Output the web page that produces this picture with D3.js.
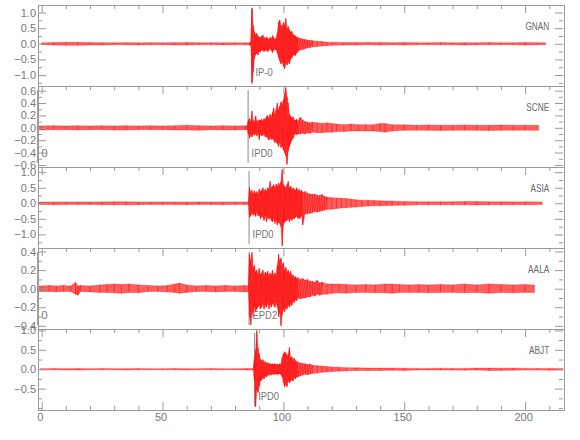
<!DOCTYPE html>
<html><head><meta charset="utf-8">
<script src="https://cdn.jsdelivr.net/npm/d3@7"></script>
<style>
html,body{margin:0;padding:0;background:#fff;}
svg{display:block;}
text{font-family:"Liberation Sans",Arial,sans-serif;}
</style></head><body>
<svg id="c" width="580" height="440"></svg>
<script>
// ---------------- data ----------------
const stations = ["GNAN","SCNE","ASIA","AALA","ABJT"];
const yDomains = [[-1.35,1.24],[-0.633,0.675],[-1.435,1.165],[-0.434,0.438],[-1.05,1.036]];
const yMajor = [[-1,-0.5,0,0.5,1],[-0.6,-0.4,-0.2,0,0.2,0.4,0.6],[-1,-0.5,0,0.5,1],[-0.4,-0.2,0,0.2,0.4],[-0.5,0,0.5,1]];
const yMinorStep = [0.25,0.1,0.25,0.1,0.25];
const xDomain = [-1.65, 215.8];
const xMajor = [0,50,100,150,200];
const xMinor = [10,20,30,40,60,70,80,90,110,120,130,140,160,170,180,190,210];
const picks = [
  {s:0,t:87.0,label:"IP-0"},
  {s:1,t:-1.65,label:"0"},{s:1,t:85.4,label:"IPD0"},
  {s:2,t:85.8,label:"IPD0"},
  {s:3,t:-1.65,label:"0"},{s:3,t:85.8,label:"EPD2"},
  {s:4,t:88.1,label:"IPD0"}
];
// envelope of each trace: [time s, max amplitude, min amplitude]
const GNAN = [
[0,.03,-.03],[5,.04,-.04],[10,.05,-.045],[15,.045,-.05],[20,.04,-.035],[25,.035,-.04],[30,.03,-.03],[35,.035,-.03],[40,.03,-.035],[45,.035,-.03],[50,.03,-.03],[55,.035,-.035],[60,.04,-.035],[65,.03,-.03],[70,.035,-.03],[75,.03,-.035],[80,.03,-.03],[84,.035,-.03],[86,.03,-.035],[86.5,.06,-.07],
[87,1.15,-1.27],[87.5,.6,-.9],[88,.38,-.47],[88.5,.3,-.35],[89,.33,-.3],[89.5,.25,-.36],[90,.22,-.25],[90.5,.2,-.26],[91,.24,-.2],[91.5,.28,-.22],[92,.2,-.25],[92.5,.17,-.22],[93,.22,-.2],[93.5,.18,-.26],[94,.15,-.2],[94.5,.2,-.17],[95,.17,-.22],[95.5,.26,-.28],[96,.2,-.2],[96.5,.15,-.18],[97,.18,-.2],[97.5,.35,-.3],[98,.7,-.45],[98.5,.76,-.55],[99,.6,-.65],[99.5,.55,-.58],[100,.68,-.72],[100.5,.6,-.8],[101,.81,-.62],[101.5,.5,-.68],[102,.55,-.58],[102.5,.45,-.65],[103,.38,-.5],[103.5,.4,-.45],[104,.3,-.38],[104.5,.28,-.35],[105,.25,-.38],[105.5,.22,-.3],[106,.2,-.25],[107,.17,-.2],[108,.15,-.18],[109,.14,-.16],[110,.12,-.13],[111,.11,-.12],[112,.1,-.1],[114,.08,-.09],[116,.07,-.07],[118,.05,-.06],[120,.05,-.05],[125,.04,-.04],[130,.04,-.04],[135,.04,-.03],[140,.04,-.04],[145,.03,-.03],[150,.04,-.04],[155,.03,-.03],[160,.03,-.03],[165,.04,-.03],[170,.03,-.03],[175,.03,-.04],[180,.03,-.03],[185,.04,-.03],[190,.03,-.03],[195,.03,-.03],[200,.04,-.04],[205,.03,-.03],[208.4,.03,-.03]];
const SCNE = [
[-1.65,.03,-.03],[0,.03,-.035],[5,.035,-.03],[10,.03,-.03],[15,.035,-.035],[20,.03,-.03],[25,.035,-.03],[30,.03,-.035],[35,.035,-.035],[40,.03,-.03],[45,.035,-.03],[50,.03,-.03],[55,.035,-.035],[60,.04,-.035],[65,.035,-.04],[70,.03,-.03],[75,.035,-.035],[80,.03,-.035],[84,.035,-.03],[85,.03,-.03],
[85.5,.12,-.1],[86,.15,-.17],[86.5,.1,-.12],[87,.27,-.15],[87.5,.12,-.1],[88,.1,-.12],[88.5,.19,-.1],[89,.12,-.13],[89.5,.1,-.11],[90,.13,-.19],[90.5,.12,-.1],[91,.14,-.13],[91.5,.11,-.12],[92,.15,-.11],[92.5,.13,-.15],[93,.18,-.14],[93.5,.2,-.17],[94,.16,-.2],[94.5,.22,-.16],[95,.18,-.19],[95.5,.25,-.18],[96,.32,-.2],[96.5,.22,-.24],[97,.3,-.22],[97.5,.4,-.26],[98,.28,-.3],[98.5,.35,-.24],[99,.42,-.32],[99.5,.38,-.3],[100,.45,-.36],[100.5,.55,-.4],[101,.65,-.45],[101.5,.5,-.59],[102,.4,-.38],[102.5,.22,-.3],[103,.19,-.25],[103.5,.16,-.2],[104,.18,-.17],[104.5,.13,-.12],[105,.12,-.1],[105.5,.14,-.11],[106,.11,-.1],[107,.17,-.1],[108,.12,-.09],[109,.1,-.1],[110,.09,-.08],[111,.08,-.09],[112,.09,-.07],[114,.08,-.08],[116,.07,-.08],[118,.08,-.07],[120,.07,-.07],[122,.06,-.06],[125,.05,-.06],[128,.06,-.05],[131,.05,-.05],[134,.05,-.05],[137,.05,-.05],[140,.07,-.06],[142,.07,-.07],[145,.05,-.05],[150,.05,-.04],[155,.04,-.04],[160,.045,-.04],[165,.04,-.045],[170,.04,-.04],[175,.045,-.04],[180,.04,-.04],[185,.04,-.045],[190,.045,-.04],[195,.04,-.04],[200,.04,-.04],[205.5,.04,-.04]];
const ASIA = [
[-1.65,.04,-.04],[0,.04,-.04],[5,.04,-.045],[10,.045,-.04],[15,.04,-.04],[20,.04,-.04],[25,.045,-.045],[30,.05,-.045],[35,.05,-.05],[40,.04,-.045],[45,.04,-.04],[50,.045,-.04],[55,.04,-.04],[60,.04,-.045],[65,.045,-.04],[70,.04,-.04],[75,.045,-.045],[80,.04,-.04],[84,.04,-.04],[85.5,.04,-.04],
[86,.5,-.45],[86.5,.35,-.4],[87,.42,-.3],[87.5,.3,-.38],[88,.4,-.35],[88.5,.33,-.42],[89,.38,-.3],[89.5,.3,-.4],[90,.45,-.38],[90.5,.38,-.5],[91,.42,-.42],[91.5,.5,-.45],[92,.4,-.55],[92.5,.45,-.4],[93,.38,-.6],[93.5,.5,-.45],[94,.45,-.5],[94.5,.7,-.48],[95,.5,-.55],[95.5,.55,-.6],[96,.6,-.5],[96.5,.5,-.65],[97,.62,-.55],[97.5,.55,-.7],[98,.65,-.6],[98.5,.58,-.65],[99,.7,-.75],[99.5,1.09,-1.37],[100,.6,-.7],[100.5,.55,-.6],[101,.5,-.58],[101.5,.6,-.55],[102,.7,-.5],[102.5,.5,-.6],[103,.55,-.5],[103.5,.45,-.55],[104,.5,-.48],[104.5,.45,-.5],[105,.42,-.45],[105.5,.5,-.42],[106,.4,-.48],[106.5,.45,-.5],[107,.38,-.45],[107.5,.42,-.4],[108,.35,-.7],[109,.38,-.35],[110,.32,-.33],[111,.3,-.32],[112,.28,-.3],[113,.3,-.27],[114,.26,-.28],[115,.25,-.26],[116,.28,-.24],[117,.22,-.22],[118,.2,-.2],[120,.18,-.19],[122,.17,-.17],[124,.16,-.15],[126,.15,-.14],[128,.13,-.13],[130,.11,-.12],[132.5,.1,-.1],[135,.1,-.09],[137.5,.09,-.08],[140,.08,-.08],[142.5,.07,-.07],[145,.07,-.07],[147.5,.06,-.06],[150,.06,-.06],[155,.05,-.05],[160,.05,-.05],[165,.05,-.05],[170,.05,-.05],[175,.055,-.05],[180,.06,-.055],[185,.05,-.05],[190,.05,-.05],[195,.045,-.05],[200,.05,-.045],[207,.04,-.04]];
const AALA = [
[-1.65,.03,-.03],[0,.03,-.03],[3,.035,-.03],[6,.03,-.035],[9,.035,-.03],[12,.03,-.03],[14,.07,-.06],[15,.03,-.07],[16,.035,-.03],[20,.03,-.035],[24,.04,-.04],[27,.045,-.04],[30,.05,-.045],[33,.045,-.05],[36,.05,-.04],[40,.04,-.045],[44,.035,-.03],[48,.03,-.03],[52,.035,-.035],[55,.05,-.04],[57,.06,-.05],[60,.04,-.04],[64,.03,-.03],[68,.035,-.03],[72,.03,-.035],[76,.035,-.03],[80,.03,-.03],[84,.035,-.035],[85.5,.03,-.03],
[86,.37,-.3],[86.5,.3,-.39],[87,.39,-.25],[87.5,.22,-.3],[88,.25,-.2],[88.5,.18,-.25],[89,.2,-.22],[89.5,.15,-.2],[90,.22,-.18],[90.5,.15,-.22],[91,.17,-.2],[91.5,.2,-.17],[92,.14,-.22],[92.5,.18,-.18],[93,.16,-.2],[93.5,.19,-.15],[94,.14,-.22],[94.5,.17,-.17],[95,.15,-.2],[95.5,.2,-.16],[96,.14,-.18],[96.5,.17,-.2],[97,.15,-.15],[97.5,.25,-.2],[98,.37,-.3],[98.5,.3,-.25],[99,.33,-.4],[99.5,.25,-.28],[100,.28,-.22],[100.5,.2,-.25],[101,.23,-.2],[101.5,.18,-.22],[102,.2,-.18],[102.5,.16,-.2],[103,.19,-.17],[103.5,.14,-.18],[104,.15,-.14],[104.5,.12,-.15],[105,.13,-.12],[105.5,.11,-.13],[106,.12,-.1],[107,.1,-.11],[108,.11,-.1],[109,.09,-.1],[110,.1,-.09],[111,.08,-.09],[112,.08,-.07],[113,.07,-.08],[114,.09,-.06],[115,.06,-.07],[116,.07,-.06],[118,.05,-.06],[120,.05,-.05],[123,.05,-.045],[126,.045,-.05],[130,.04,-.04],[134,.045,-.04],[138,.04,-.045],[142,.05,-.045],[145,.05,-.05],[148,.045,-.04],[152,.04,-.04],[156,.045,-.04],[160,.04,-.045],[165,.045,-.04],[170,.04,-.04],[175,.05,-.045],[180,.04,-.04],[185,.05,-.05],[190,.045,-.04],[195,.04,-.045],[200,.045,-.04],[203.8,.04,-.04]];
const ABJT = [
[-0.7,.015,-.015],[5,.02,-.015],[10,.015,-.02],[15,.02,-.02],[20,.015,-.015],[25,.02,-.015],[30,.015,-.015],[35,.015,-.02],[40,.02,-.015],[45,.015,-.015],[50,.015,-.015],[55,.02,-.015],[60,.015,-.02],[65,.015,-.015],[70,.02,-.015],[75,.015,-.015],[80,.015,-.015],[85,.02,-.02],[87.5,.02,-.02],
[88,.25,-.3],[88.5,.5,-.97],[89,1.0,-.55],[89.5,.55,-.6],[90,.4,-.45],[90.5,.26,-.3],[91,.22,-.28],[91.5,.25,-.22],[92,.18,-.25],[92.5,.2,-.18],[93,.15,-.2],[93.5,.17,-.15],[94,.14,-.16],[94.5,.15,-.13],[95,.12,-.15],[95.5,.14,-.12],[96,.12,-.14],[96.5,.15,-.13],[97,.12,-.12],[97.5,.13,-.14],[98,.12,-.12],[98.5,.14,-.12],[99,.12,-.15],[99.5,.3,-.2],[100,.4,-.35],[100.5,.45,-.45],[101,.42,-.4],[101.5,.35,-.45],[102,.4,-.3],[102.5,.56,-.35],[103,.3,-.3],[103.5,.32,-.28],[104,.25,-.3],[104.5,.28,-.22],[105,.22,-.25],[105.5,.2,-.2],[106,.18,-.2],[107,.16,-.17],[108,.15,-.15],[109,.14,-.13],[110,.12,-.14],[111,.13,-.12],[112,.1,-.11],[114,.09,-.1],[116,.08,-.08],[118,.07,-.07],[120,.06,-.06],[123,.05,-.05],[126,.04,-.04],[130,.035,-.035],[135,.03,-.03],[140,.03,-.03],[145,.03,-.025],[150,.025,-.03],[155,.02,-.02],[160,.02,-.02],[165,.025,-.02],[170,.02,-.02],[175,.02,-.025],[180,.03,-.02],[185,.03,-.03],[190,.025,-.03],[195,.03,-.025],[200,.02,-.02],[205,.02,-.02],[210,.02,-.025],[215.8,.02,-.02]];
const traces = [GNAN, SCNE, ASIA, AALA, ABJT];

// ---------------- layout ----------------
const L = 37.7, R = 563.3, T = 5, H = 81;
const axisColor = "#9a9a9a", textColor = "#777";
const svg = d3.select("#c");
const x = d3.scaleLinear().domain(xDomain).range([L, R]);

function minorTicks(dom, step, major){
  const a = [];
  for (let k = Math.ceil(dom[0]/step - 1e-9); k*step <= dom[1] + 1e-9; k++) {
    const v = +(k*step).toFixed(4);
    if (!major.some(m => Math.abs(m - v) < 1e-6)) a.push(v);
  }
  return a;
}
function styleAxis(g){
  g.select(".domain").remove();
  g.selectAll(".tick line").attr("stroke", axisColor);
  g.selectAll(".tick text").attr("fill", textColor).attr("font-size", 11)
    .attr("font-family", '"Liberation Sans", Arial, sans-serif');
}
const fmt = d => (d < 0 ? "\u2212" : "") + Math.abs(d).toFixed(1);

const defs = svg.append("defs");

stations.forEach((name, i) => {
  const top = T + i*H;
  const y = d3.scaleLinear().domain(yDomains[i]).range([top + H, top]);
  const g = svg.append("g");

  defs.append("clipPath").attr("id", "clip" + i)
    .append("rect").attr("x", L).attr("y", top).attr("width", R - L).attr("height", H);

  // picks (lines)
  picks.filter(p => p.s === i).forEach(p => {
    g.append("line")
      .attr("x1", x(p.t)).attr("x2", x(p.t))
      .attr("y1", top + 4).attr("y2", top + H - 4)
      .attr("stroke", "#8a8a8a").attr("stroke-width", 1);
  });

  // trace
  const data = traces[i];
  const tg = g.append("g").attr("clip-path", `url(#clip${i})`);
  tg.append("path")
    .attr("d", d3.area().x(d => x(d[0])).y0(d => y(d[2])).y1(d => y(d[1]))(data))
    .attr("fill", "#ff2020").attr("fill-opacity", 0.72);
  // envelope edges
  [1, 2].forEach(k => {
    tg.append("path")
      .attr("d", d3.line().x(d => x(d[0])).y(d => y(d[k]))(data))
      .attr("fill", "none").attr("stroke", "#ff0000").attr("stroke-width", 0.5)
      .attr("stroke-opacity", 0.6);
  });
  // oscillation: peak -> trough at each sample, joined only where samples are dense
  const zig = [];
  data.forEach((d, j) => {
    if (j > 0 && d[0] - data[j-1][0] > 1.01) zig.push(null);
    zig.push([d[0], d[1]], [d[0], d[2]]);
  });
  tg.append("path")
    .attr("d", d3.line().defined(d => d !== null).x(d => x(d[0])).y(d => y(d[1]))(zig))
    .attr("fill", "none").attr("stroke", "#ff0000").attr("stroke-width", 0.6)
    .attr("stroke-opacity", 0.85);

  // pick labels
  picks.filter(p => p.s === i).forEach(p => {
    g.append("text").attr("x", x(p.t) + 3.5).attr("y", top + 71)
      .attr("font-size", 11.5).attr("fill", textColor).attr("class", "pick")
      .text(p.label);
  });

  // station name
  g.append("text").attr("x", 549.3).attr("y", top + 24.5)
    .attr("text-anchor", "end").attr("font-size", 11.5).attr("fill", "#6a6a6a")
    .attr("class", "stn").text(name);

  // frame
  g.append("rect").attr("x", Math.round(L) + 0.5).attr("y", top + 0.5)
    .attr("width", Math.round(R - L)).attr("height", H)
    .attr("fill", "none").attr("stroke", axisColor).attr("stroke-width", 1);

  // y axes
  const yMin = minorTicks(yDomains[i], yMinorStep[i], yMajor[i]);
  g.append("g").attr("transform", `translate(${Math.round(L)},0)`)
    .call(d3.axisLeft(y).tickValues(yMajor[i]).tickSizeInner(-8).tickSizeOuter(0).tickPadding(2).tickFormat(fmt))
    .call(styleAxis);
  g.append("g").attr("transform", `translate(${Math.round(L)},0)`)
    .call(d3.axisLeft(y).tickValues(yMin).tickSizeInner(-4).tickSizeOuter(0).tickFormat(""))
    .call(styleAxis);
  g.append("g").attr("transform", `translate(${Math.round(R)},0)`)
    .call(d3.axisRight(y).tickValues(yMajor[i]).tickSizeInner(-8).tickSizeOuter(0).tickFormat(""))
    .call(styleAxis);
  g.append("g").attr("transform", `translate(${Math.round(R)},0)`)
    .call(d3.axisRight(y).tickValues(yMin).tickSizeInner(-4).tickSizeOuter(0).tickFormat(""))
    .call(styleAxis);

  // x ticks on top of each panel
  g.append("g").attr("transform", `translate(0,${top})`)
    .call(d3.axisTop(x).tickValues(xMajor).tickSizeInner(-8).tickSizeOuter(0).tickFormat(""))
    .call(styleAxis);
  g.append("g").attr("transform", `translate(0,${top})`)
    .call(d3.axisTop(x).tickValues(xMinor).tickSizeInner(-4).tickSizeOuter(0).tickFormat(""))
    .call(styleAxis);

  if (i === stations.length - 1) {
    const bx = g.append("g").attr("transform", `translate(0,${top + H})`)
      .call(d3.axisBottom(x).tickValues(xMajor).tickSizeInner(-8).tickSizeOuter(0).tickPadding(3).tickFormat(d3.format("d")))
      .call(styleAxis);
    bx.selectAll(".tick text").attr("dx", -2);
    g.append("g").attr("transform", `translate(0,${top + H})`)
      .call(d3.axisBottom(x).tickValues(xMinor).tickSizeInner(-4).tickSizeOuter(0).tickFormat(""))
      .call(styleAxis);
  }
});

// narrow letterforms for the labels (plot font is condensed)
function condense(sel, k){
  sel.each(function(){
    const len = this.getComputedTextLength();
    if (len > 8) {
      this.setAttribute("textLength", (len * k).toFixed(1));
      this.setAttribute("lengthAdjust", "spacingAndGlyphs");
    }
  });
}
condense(svg.selectAll("text.stn"), 0.72);
condense(svg.selectAll("text.pick"), 0.82);
</script>
</body></html>
